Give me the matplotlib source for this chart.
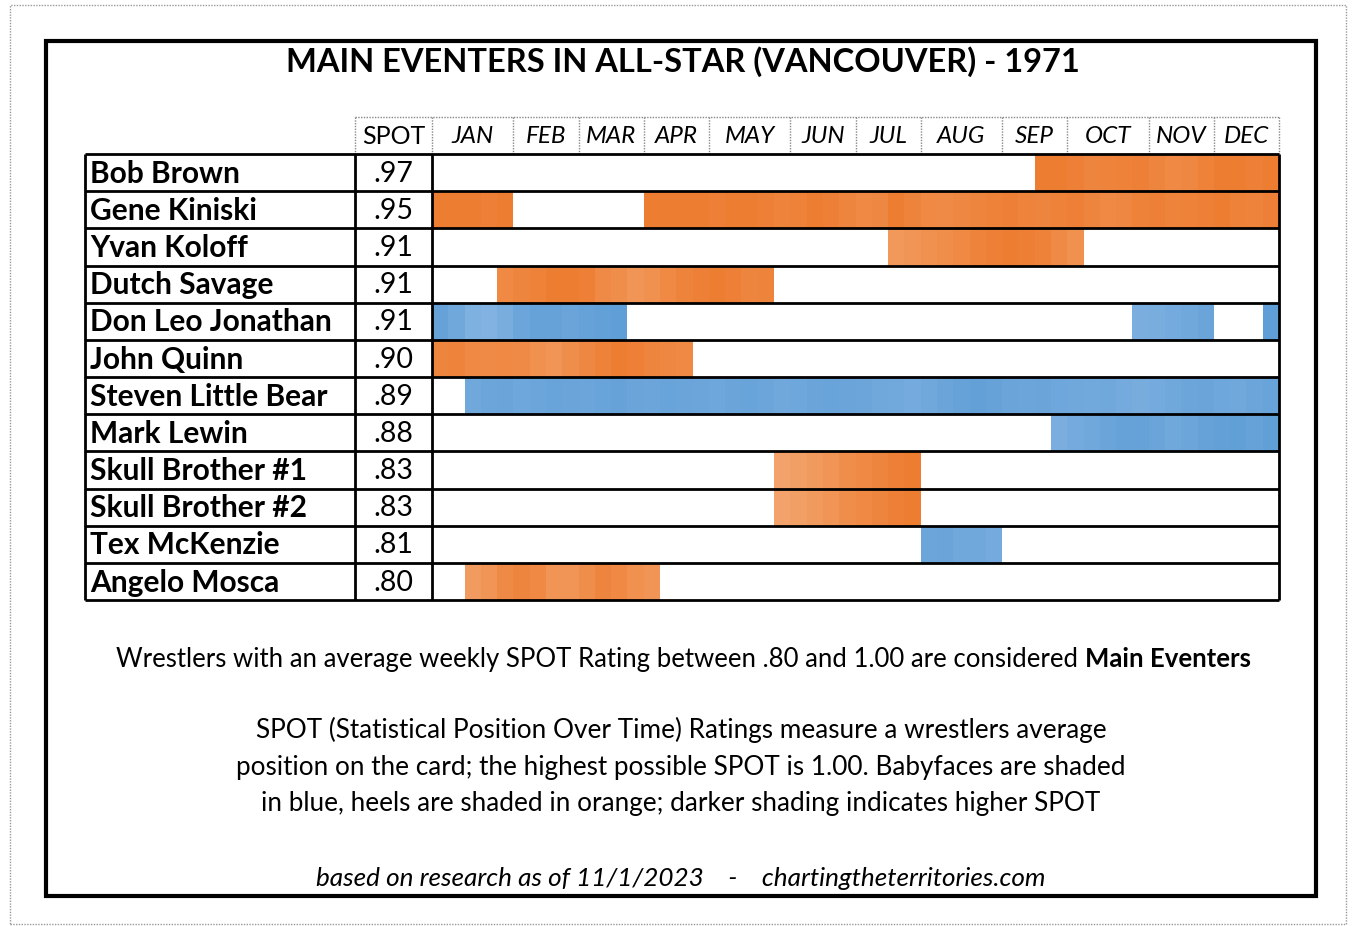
import numpy as np
import matplotlib
matplotlib.use("Agg")
import matplotlib.pyplot as plt
from matplotlib.colors import LinearSegmentedColormap, Normalize
from matplotlib.patches import Rectangle

months = ["JAN", "FEB", "MAR", "APR", "MAY", "JUN", "JUL", "AUG", "SEP", "OCT", "NOV", "DEC"]
weeks_in_month = [5, 4, 4, 4, 5, 4, 4, 5, 4, 5, 4, 4]

names = ["Bob Brown", "Gene Kiniski", "Yvan Koloff", "Dutch Savage", "Don Leo Jonathan",
         "John Quinn", "Steven Little Bear", "Mark Lewin", "Skull Brother #1",
         "Skull Brother #2", "Tex McKenzie", "Angelo Mosca"]
spot = [".97", ".95", ".91", ".91", ".91", ".90", ".89", ".88", ".83", ".83", ".81", ".80"]
heel = [True, True, True, True, False, True, False, False, True, True, False, True]

# weekly SPOT shading, (first week, values)
bob_brown = [(37, [1.0, 1.0, 0.98, 0.95, 0.96, 0.97, 0.98, 0.95, 0.93, 0.94, 0.97, 1.0, 1.0, 0.98, 1.0])]
gene_kiniski = [(0, [1.0, 1.0, 1.0, 0.98, 1.0]),
                (13, [1.0, 1.0, 1.0, 1.0, 0.98, 1.0, 1.0, 0.98, 0.96, 0.97, 1.0, 0.98, 0.95,
                      0.93, 0.94, 1.0, 0.96, 0.93, 0.92, 0.94, 0.95, 0.97, 0.98, 0.96, 0.95,
                      0.97, 0.98, 0.95, 0.93, 0.94, 0.97, 0.98, 0.96, 0.97, 0.98, 1.0, 0.97,
                      0.96, 0.98])]
yvan_koloff = [(28, [0.84, 0.86, 0.88, 0.9, 0.93, 0.96, 0.98, 1.0, 0.99, 0.97, 0.92, 0.88])]
dutch_savage = [(4, [0.93, 0.95, 0.97, 1.0, 1.0, 0.98, 0.92, 0.9, 0.86, 0.88, 0.93, 0.96,
                     0.98, 1.0, 0.98, 0.95, 0.96])]
don_leo_jonathan = [(0, [0.95, 0.9, 0.83, 0.82, 0.86, 0.92, 0.95, 0.95, 0.93, 0.95, 0.96, 0.98]),
                    (43, [0.85, 0.86, 0.88, 0.9, 0.93]),
                    (51, [0.98])]
john_quinn = [(0, [0.95, 0.96, 0.93, 0.92, 0.93, 0.92, 0.88, 0.86, 0.9, 0.94, 0.97, 1.0,
                   0.98, 0.95, 0.94, 0.93])]
steven_little_bear = [(2, [0.9, 0.92, 0.93, 0.91, 0.92, 0.94, 0.93, 0.92, 0.94, 0.95, 0.93,
                           0.92, 0.94, 0.93, 0.92, 0.91, 0.93, 0.94, 0.92, 0.9, 0.91, 0.93,
                           0.94, 0.93, 0.92, 0.9, 0.89, 0.88, 0.9, 0.93, 0.95, 0.96, 0.95,
                           0.93, 0.92, 0.93, 0.91, 0.9, 0.89, 0.9, 0.88, 0.87, 0.88, 0.9,
                           0.92, 0.93, 0.91, 0.9, 0.92, 0.94])]
mark_lewin = [(38, [0.85, 0.88, 0.9, 0.93, 0.95, 0.95, 0.93, 0.9, 0.92, 0.95, 0.96, 0.97,
                    0.95, 0.97])]
skull_brother_1 = [(21, [0.78, 0.8, 0.83, 0.86, 0.9, 0.93, 0.95, 0.98, 1.0])]
skull_brother_2 = [(21, [0.78, 0.8, 0.83, 0.86, 0.9, 0.93, 0.95, 0.98, 1.0])]
tex_mckenzie = [(30, [0.92, 0.93, 0.9, 0.9, 0.88])]
angelo_mosca = [(2, [0.82, 0.86, 0.92, 0.95, 0.93, 0.86, 0.86, 0.9, 0.95, 0.93, 0.88, 0.86])]

weekly = [bob_brown, gene_kiniski, yvan_koloff, dutch_savage, don_leo_jonathan, john_quinn,
          steven_little_bear, mark_lewin, skull_brother_1, skull_brother_2, tex_mckenzie,
          angelo_mosca]

plt.rcParams['font.family'] = ['Lato', 'DejaVu Sans']

orange = LinearSegmentedColormap.from_list("heel", ["#F3A772", "#ED7D31"])
blue = LinearSegmentedColormap.from_list("face", ["#90BBE5", "#5B9BD5"])
norm = Normalize(vmin=0.75, vmax=1.0, clip=True)

W, H = 1354, 926
fig = plt.figure(figsize=(W / 100, H / 100), dpi=100)

def fx(px):
    return px / W

def fy(py):
    return 1 - py / H

# page borders
fig.patches.append(Rectangle((fx(10), fy(924)), fx(1346) - fx(10), fy(5) - fy(924),
                             transform=fig.transFigure, fill=False, ec="#9a9a9a",
                             lw=1, ls=(0, (1, 1))))
fig.patches.append(Rectangle((fx(46), fy(896)), fx(1316) - fx(46), fy(41) - fy(896),
                             transform=fig.transFigure, fill=False, ec="black", lw=3))

nweeks = sum(weeks_in_month)
week_px = (1279 - 432) / nweeks
name_w = (355 - 85) / week_px
spot_w = (432 - 355) / week_px
x0 = -(name_w + spot_w)

ax = fig.add_axes([fx(85), fy(600), fx(1279) - fx(85), fy(117) - fy(600)])
ax.set_xlim(x0, nweeks)
ax.set_ylim(len(names) - 0.5, -1.5)
ax.axis("off")

for i, segs in enumerate(weekly):
    cmap = orange if heel[i] else blue
    for start, vals in segs:
        vals = np.array(vals)
        ax.barh(np.full(len(vals), i), 1, left=start + np.arange(len(vals)), height=1,
                color=cmap(norm(vals)), lw=0, zorder=1)

# table lines
for y in np.arange(-0.5, len(names)):
    ax.hlines(y, x0, nweeks, color="black", lw=2, zorder=3, clip_on=False)
for x in [x0, -spot_w, 0, nweeks]:
    ax.vlines(x, -0.5, len(names) - 0.5, color="black", lw=2, zorder=3, clip_on=False)

# header cells
bounds = np.concatenate([[0], np.cumsum(weeks_in_month)])
ax.hlines(-1.5, -spot_w, nweeks, color="#888888", lw=1, ls=(0, (1, 1)), clip_on=False)
for x in np.concatenate([[-spot_w], bounds]):
    ax.vlines(x, -1.5, -0.5, color="#888888", lw=1, ls=(0, (1, 1)), clip_on=False)
ax.text(-spot_w / 2, -0.97, "SPOT", ha="center", va="center", fontsize=18)
for m, a, b in zip(months, bounds[:-1], bounds[1:]):
    ax.text((a + b) / 2, -0.97, m, ha="center", va="center", fontsize=17.5, style="italic")

for i, (n, s) in enumerate(zip(names, spot)):
    ax.text(x0 + 0.3, i + 0.03, n, ha="left", va="center", fontsize=21.5, fontweight="bold")
    ax.text(-spot_w / 2, i + 0.03, s, ha="center", va="center", fontsize=20.5)

fig.text(fx(683), fy(62), "MAIN EVENTERS IN ALL-STAR (VANCOUVER) - 1971", ha="center",
         va="center", fontsize=23.5, fontweight="bold")

# first note line with bold ending
renderer = fig.canvas.get_renderer()
t1 = fig.text(0, fy(659), "Wrestlers with an average weekly SPOT Rating between .80 and 1.00 are considered ",
              ha="left", va="center", fontsize=18.5)
t2 = fig.text(0, fy(659), "Main Eventers", ha="left", va="center", fontsize=18.5, fontweight="bold")
w1 = t1.get_window_extent(renderer).width
w2 = t2.get_window_extent(renderer).width
left = 683.5 - (w1 + w2) / 2
t1.set_x(fx(left))
t2.set_x(fx(left + w1))

notes = ["SPOT (Statistical Position Over Time) Ratings measure a wrestlers average",
         "position on the card; the highest possible SPOT is 1.00. Babyfaces are shaded",
         "in blue, heels are shaded in orange; darker shading indicates higher SPOT"]
for k, line in enumerate(notes):
    fig.text(fx(681), fy(730 + 37 * k), line, ha="center", va="center", fontsize=18.8)

fig.text(fx(681), fy(878), "based on research as of 11/1/2023    -    chartingtheterritories.com",
         ha="center", va="center", fontsize=18.8, style="italic")

fig.savefig("out.png", dpi=100)
